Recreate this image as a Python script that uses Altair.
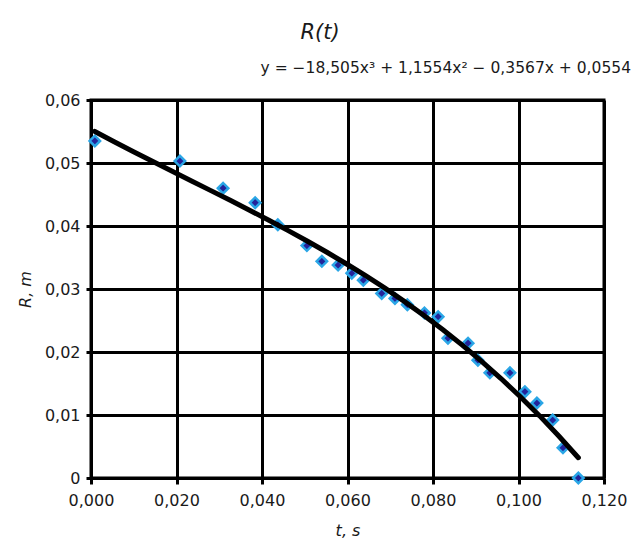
import altair as alt
import pandas as pd

# Data
t_values = [0.0009, 0.0208, 0.0309, 0.0384, 0.0437, 0.0505, 0.0540, 0.0578, 0.0610,
            0.0637, 0.0680, 0.0711, 0.0740, 0.0780, 0.0812, 0.0835, 0.0882, 0.0905,
            0.0933, 0.0980, 0.1015, 0.1043, 0.1080, 0.1104, 0.1140]
r_values = [0.0535, 0.0503, 0.0460, 0.0437, 0.0402, 0.0369, 0.0344, 0.0338, 0.0325,
            0.0314, 0.0293, 0.0285, 0.0275, 0.0262, 0.0256, 0.0222, 0.0214, 0.0187,
            0.0167, 0.0167, 0.0137, 0.0119, 0.0092, 0.0048, 0.0000]
x_ticks = [0.0, 0.02, 0.04, 0.06, 0.08, 0.10, 0.12]
y_ticks = [0.0, 0.01, 0.02, 0.03, 0.04, 0.05, 0.06]
title_text = "R(t)"
equation_text = "y = \u221218,505x\u00b3 + 1,1554x\u00b2 \u2212 0,3567x + 0,0554"
x_title = "t, s"
y_title = "R, m"

FONT = "DejaVu Sans"
TXT = "#1a1a1a"

df = pd.DataFrame({"t": t_values, "R": r_values})
base = alt.Chart(df)

common_axis = dict(
    labelFontSize=16,
    titleFontSize=16,
    titleFontStyle="italic",
    titleFontWeight="normal",
    tickWidth=3,
    tickColor="black",
    domainColor="black",
    domainWidth=3,
    gridColor="black",
    gridWidth=3,
    gridOpacity=1,
    labelFlush=False,
    labelOverlap=False,
)

x_enc = alt.X(
    "t:Q",
    scale=alt.Scale(domain=[0, 0.12], nice=False, zero=False),
    axis=alt.Axis(
        values=x_ticks,
        labelExpr="replace(format(datum.value, '.3f'), '.', ',')",
        title=x_title,
        titlePadding=14,
        labelPadding=8,
        tickSize=6,
        **common_axis,
    ),
)
y_enc = alt.Y(
    "R:Q",
    scale=alt.Scale(domain=[0, 0.06], nice=False),
    axis=alt.Axis(
        values=y_ticks,
        labelExpr="datum.value == 0 ? '0' : replace(format(datum.value, '.2f'), '.', ',')",
        title=y_title,
        titlePadding=11,
        labelPadding=6,
        tickSize=5,
        **common_axis,
    ),
)

points = base.mark_point(
    shape="diamond", filled=True, size=110, fill="#23239a", stroke="#2aa6e6",
    strokeWidth=2.5, opacity=1,
).encode(x=x_enc, y=y_enc)

trend = base.transform_regression(
    "t", "R", method="poly", order=3
).mark_line(color="black", strokeWidth=5, strokeCap="round").encode(
    x=alt.X("t:Q"), y=alt.Y("R:Q")
)

equation = alt.Chart(pd.DataFrame({"label": [equation_text]})).mark_text(
    align="right", baseline="alphabetic", fontSize=15.5, font=FONT, color=TXT
).encode(text="label:N", x=alt.value(540), y=alt.value(-27))

heading = alt.Chart(pd.DataFrame({"label": [title_text]})).mark_text(
    align="center", baseline="alphabetic", fontSize=21, font=FONT,
    fontStyle="italic", color=TXT
).encode(text="label:N", x=alt.value(229), y=alt.value(-61))

chart = alt.layer(points, trend, equation, heading).properties(
    width=513,
    height=378,
    autosize=alt.AutoSizeParams(type="none"),
    padding={"left": 83, "top": 92, "right": 27, "bottom": 64},
    background="white",
).configure_view(
    stroke="black", strokeWidth=3
).configure_axis(
    labelFont=FONT, titleFont=FONT, labelColor=TXT, titleColor=TXT
)

chart.save("out.html", embed_options={"renderer": "svg", "actions": False})
